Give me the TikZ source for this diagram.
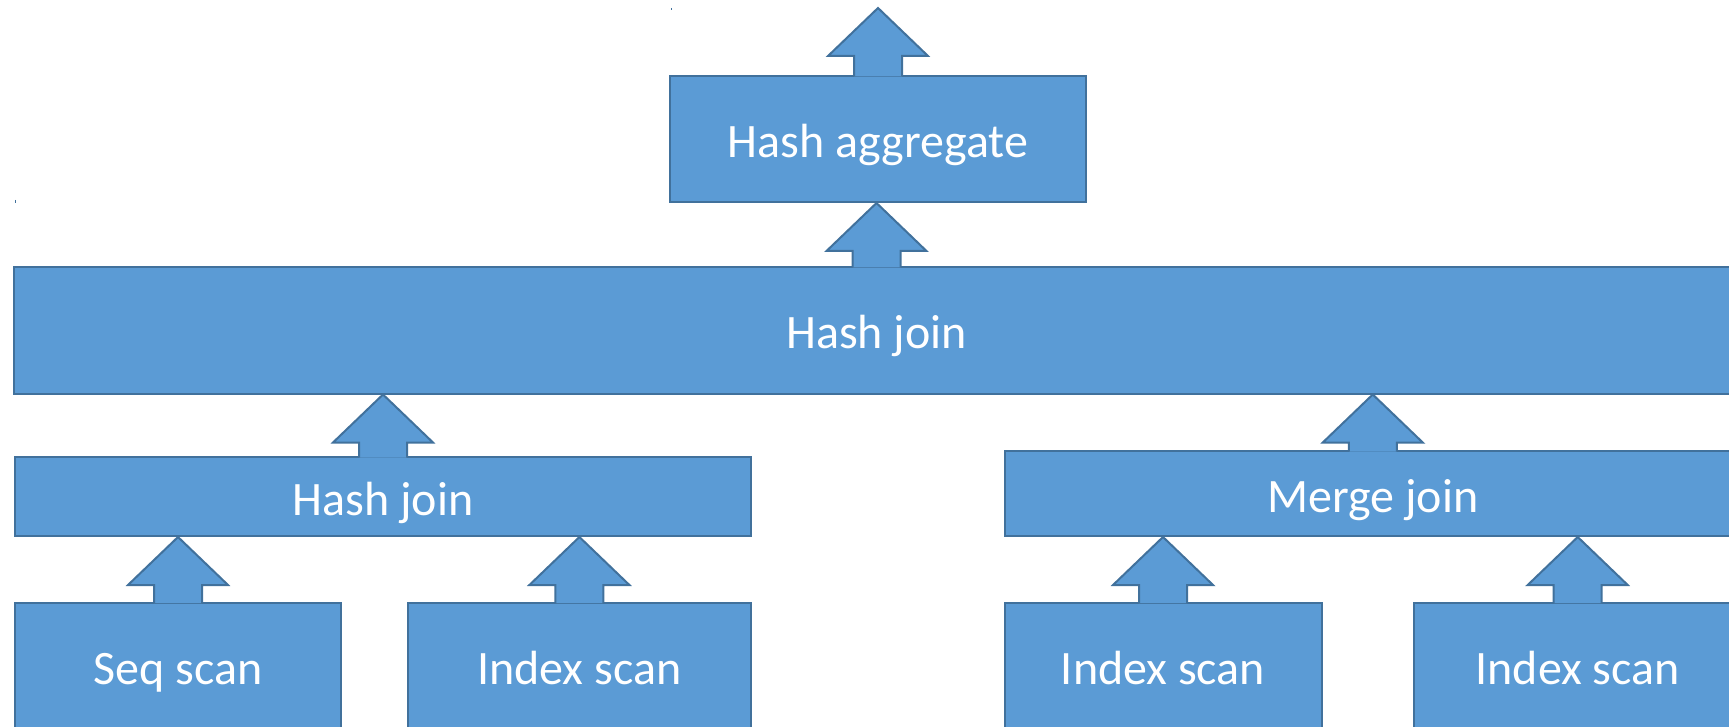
\documentclass[tikz,border=0pt]{standalone}
\usepackage{fontspec}
\setmainfont{Carlito}
\usetikzlibrary{calc}
\definecolor{boxfill}{HTML}{5B9BD5}
\definecolor{boxline}{HTML}{41719C}
\tikzset{
  opbox/.style={rectangle, fill=boxfill, draw=boxline, line width=2pt, text=white,
    inner sep=0pt, anchor=center, text height=37pt, text depth=0pt,
    font=\fontsize{48}{58}\selectfont},
  blockarr/.style={fill=boxfill, draw=boxline, line width=2pt, line join=miter},
  speck/.style={draw=boxline, line width=1pt}
}
\newcommand{\uparr}[2]{%
  \draw[blockarr] let \p1=(#1.north), \p2=(#2) in
    (\x1-24pt,\y1-1.5pt) -- (\x1-24pt,\y2-48pt) -- (\x1-50pt,\y2-48pt) -- (\x1,\y2)
    -- (\x1+50pt,\y2-48pt) -- (\x1+24pt,\y2-48pt) -- (\x1+24pt,\y1-1.5pt);
}
\begin{document}
\begin{tikzpicture}[x=1pt,y=-1pt]
\useasboundingbox (0,0) rectangle (1729,727);
\clip (0,0) rectangle (1729,727);
% nodes
\node[opbox, minimum width=416pt, minimum height=126pt] (agg) at (878,139) {Hash aggregate};
\node[opbox, minimum width=1725pt, minimum height=126.5pt] (hj) at (876.5,330.25) {Hash join};
\node[opbox, minimum width=736pt, minimum height=79pt] (hjl) at (383,496.5) {Hash join};
\node[opbox, minimum width=736.5pt, minimum height=85pt] (mj) at (1372.75,493.5) {Merge join};
\node[opbox, minimum width=326pt, minimum height=126pt] (seq) at (178,665.5) {Seq scan};
\node[opbox, minimum width=343pt, minimum height=126pt] (ix1) at (579.4,665.5) {Index scan};
\node[opbox, minimum width=317pt, minimum height=126pt] (ix2) at (1163,665.5) {Index scan};
\node[opbox, minimum width=327pt, minimum height=126pt] (ix3) at (1577.7,665.5) {Index scan};
\coordinate (out) at (878,8);
% connectors
\uparr{agg}{out}
\uparr{hj}{agg.south}
\uparr{hjl}{hj.south}
\uparr{mj}{hj.south}
\uparr{seq}{hjl.south}
\uparr{ix1}{hjl.south}
\uparr{ix2}{mj.south}
\uparr{ix3}{mj.south}
% tiny specks
\draw[speck] (671,8) -- (671,10);
\draw[speck] (15,200) -- (15,203);
\end{tikzpicture}
\end{document}
